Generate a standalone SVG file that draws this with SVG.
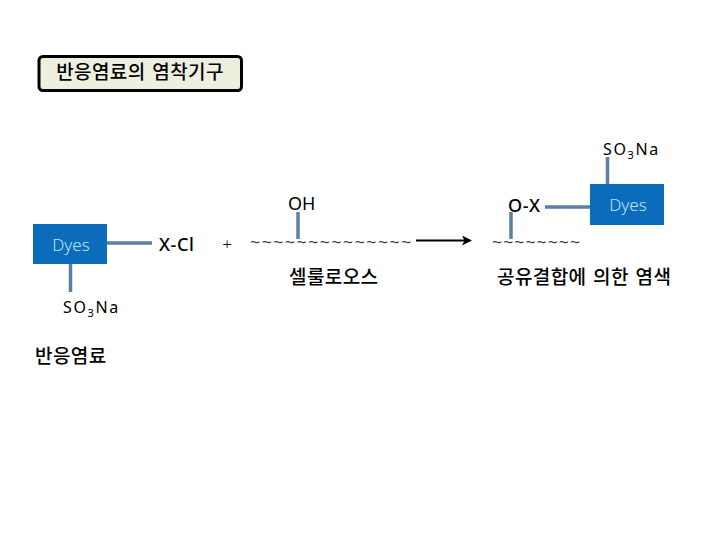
<svg xmlns="http://www.w3.org/2000/svg" width="720" height="540" viewBox="0 0 720 540">
<defs>
<style>
text{font-family:"Noto Sans","Noto Sans CJK KR",sans-serif;fill:#000}
.k{font-family:"Noto Sans CJK KR",sans-serif;font-size:19px;font-weight:500;letter-spacing:.4px;word-spacing:2px}
.f{font-size:16px;letter-spacing:1.6px}
.b{font-size:18px;font-weight:500;letter-spacing:.6px}
.d{font-size:17px;font-weight:300;fill:#bfe3f5;text-anchor:middle}
.t{font-family:"Liberation Sans",sans-serif;fill:#333;font-size:17px}
.box{fill:#0b6cbc}
.c{stroke:#5b7fa8;stroke-width:3.500;fill:none}
</style>
<marker id="a" markerWidth="11" markerHeight="10" refX="8" refY="5" orient="auto" markerUnits="userSpaceOnUse"><path d="M0 0L10 5L0 10L2.500 5Z" fill="#000"/></marker>
</defs>
<g id="title"><rect x="39" y="56.500" width="202.500" height="34" rx="4" fill="#eeefdf" stroke="#000" stroke-width="3"/><text x="140" y="79" class="k" text-anchor="middle">반응염료의 염착기구</text></g>
<g id="connectors">
<path class="c" d="M107 243H152M70.500 264V292M298 212V239M511 212V239M545 207H590M607.500 157V184"/>
<path d="M416 240.500H470" stroke="#000" stroke-width="2" marker-end="url(#a)" fill="none"/>
</g>
<g id="dye-left"><rect class="box" x="33" y="224" width="74" height="40"/><text class="d" x="71" y="251">Dyes</text></g>
<g id="dye-right"><rect class="box" x="590" y="184" width="74" height="41"/><text class="d" x="628" y="211">Dyes</text></g>
<g id="xcl"><text class="b" x="159" y="251">X-Cl</text></g>
<g id="plus"><text x="227" y="250" font-size="17" font-weight="300" text-anchor="middle">+</text></g>
<g id="so3na-left"><text class="f" x="63" y="313">SO<tspan font-size="11" dy="4">3</tspan><tspan dy="-4">Na</tspan></text></g>
<g id="so3na-right"><text class="f" x="603" y="155">SO<tspan font-size="11" dy="4">3</tspan><tspan dy="-4">Na</tspan></text></g>
<g id="label-dye"><text class="k" x="35" y="363">반응염료</text></g>
<g id="oh"><text x="288" y="210" font-size="18">OH</text></g>
<g id="ox"><text class="b" x="508" y="212">O-X</text></g>
<g id="chain-left"><text class="t" x="250" y="248" letter-spacing="1.700">~~~~~~~~~~~~~~</text></g>
<g id="chain-right"><text class="t" x="492" y="248" letter-spacing="1.200">~~~~~~~~</text></g>
<g id="label-cellulose"><text class="k" x="289" y="284">셀룰로오스</text></g>
<g id="label-result"><text class="k" x="497" y="284">공유결합에 의한 염색</text></g>
</svg>
